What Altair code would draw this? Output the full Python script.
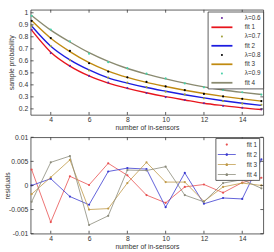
import altair as alt
import pandas as pd

# number of in-sensors
n_sensors = list(range(3, 16))

# fitted sample-probability curves
fit_1 = [0.855, 0.672, 0.556, 0.474, 0.415, 0.371, 0.334, 0.302, 0.274, 0.247, 0.227, 0.209, 0.195]
fit_2 = [0.890, 0.722, 0.608, 0.524, 0.458, 0.415, 0.378, 0.347, 0.318, 0.292, 0.268, 0.247, 0.229]
fit_3 = [0.935, 0.788, 0.677, 0.585, 0.515, 0.462, 0.420, 0.386, 0.355, 0.328, 0.304, 0.283, 0.265]
fit_4 = [0.978, 0.856, 0.757, 0.668, 0.595, 0.536, 0.490, 0.450, 0.414, 0.383, 0.357, 0.337, 0.320]

# residuals (observed - fitted)
res_1 = [0.0033, -0.0076, 0.0019, 0.0001, 0.0046, 0.0021, -0.0020, -0.0036, -0.0003, 0.0002, -0.0015, 0.0006, 0.0016]
res_2 = [0.0000, 0.0014, -0.0023, -0.0040, 0.0029, 0.0036, 0.0034, -0.0045, 0.0026, -0.0038, -0.0026, -0.0028, 0.0054]
res_3 = [-0.0018, 0.0017, 0.0053, -0.0050, -0.0048, 0.0005, 0.0048, 0.0007, 0.0007, -0.0033, -0.0003, 0.0005, 0.0000]
res_4 = [-0.0034, 0.0048, 0.0061, -0.0082, -0.0063, 0.0032, 0.0031, 0.0039, -0.0020, -0.0034, 0.0005, 0.0012, -0.0006]

lambda_labels = ["λ=0.6", "λ=0.7", "λ=0.8", "λ=0.9"]
fit_labels = ["fit 1", "fit 2", "fit 3", "fit 4"]

x_ticks = [4, 6, 8, 10, 12, 14]
p_ticks = [0.2, 0.3, 0.4, 0.5, 0.6, 0.7, 0.8, 0.9, 1]
r_ticks = [-0.01, -0.005, 0, 0.005, 0.01]

lambda_colors = ["#6a2aa0", "#a0a038", "#000000", "#48d0a8"]
fit_colors = ["#e8141c", "#1c1ce0", "#c08a10", "#8a8a70"]
res_colors = ["#e85050", "#3a3ad0", "#c09a48", "#8a8a7a"]

FONT = "Liberation Sans"
INK = "#333333"
W, H_TOP, H_BOT = 239, 108, 99

fits = [fit_1, fit_2, fit_3, fit_4]
ress = [res_1, res_2, res_3, res_4]

fit_df = pd.DataFrame([
    {"n": n, "v": v, "label": lab}
    for lab, ys in zip(fit_labels, fits) for n, v in zip(n_sensors, ys)
])
obs_df = pd.DataFrame([
    {"n": n, "v": f + r, "label": lab}
    for lab, fs, rs in zip(lambda_labels, fits, ress) for n, f, r in zip(n_sensors, fs, rs)
])
res_df = pd.DataFrame([
    {"n": n, "v": r, "label": lab}
    for lab, rs in zip(fit_labels, ress) for n, r in zip(n_sensors, rs)
])
xt_df = pd.DataFrame({"n": x_ticks})
pt_df = pd.DataFrame({"v": p_ticks})
rt_df = pd.DataFrame({"v": r_ticks})

x_scale = alt.Scale(domain=[2.95, 15.1], nice=False, zero=False)
p_scale = alt.Scale(domain=[0.15, 1.025], nice=False, zero=False)
r_scale = alt.Scale(domain=[-0.01, 0.01], nice=False, zero=False)

common_axis = dict(
    labelFont=FONT, labelFontSize=7, labelColor=INK, tickSize=0, domain=False, grid=False,
    titleFont=FONT, titleFontSize=7, titleColor=INK, titleFontWeight="normal",
    labelExpr="'' + datum.value",
)
x_axis = alt.Axis(values=x_ticks, title="number of in-sensors", labelPadding=1, titlePadding=1, **common_axis)
p_axis = alt.Axis(values=p_ticks, title="sample probability", labelPadding=3,
                  titleX=-20, titleY=H_TOP / 2, titleBaseline="middle", **common_axis)
r_axis = alt.Axis(values=r_ticks, title="residuals", labelPadding=3,
                  titleX=-24, titleY=H_BOT / 2, titleBaseline="middle", **common_axis)

X = alt.X("n:Q", scale=x_scale, axis=x_axis)

# legend symbols (unit = half the symbol size): a dot for sample points,
# a short bar for fitted lines, a bar with a marker for residual lines
DOT = "M0,-0.22A0.22,0.22 0 1,1 0,0.22A0.22,0.22 0 1,1 0,-0.22Z"
BAR = "M-2.4,-0.2H2.4V0.2H-2.4Z"
RES_DOT = "M0,-0.25A0.25,0.25 0 1,1 0,0.25A0.25,0.25 0 1,1 0,-0.25Z"
BAR_DOT = ("M-2.05,-0.1H2.05V0.1H-2.05Z "
           "M0,-0.3A0.3,0.3 0 1,1 0,0.3A0.3,0.3 0 1,1 0,-0.3Z")


def tick_marks(ys, yaxis, h):
    """Inward ticks on all four sides of a panel."""
    rule = dict(color=INK, strokeWidth=0.8)
    bx = alt.Chart(xt_df).mark_rule(**rule).encode(x=X, y=alt.value(h), y2=alt.value(h - 3))
    tx = alt.Chart(xt_df).mark_rule(**rule).encode(x=X, y=alt.value(0), y2=alt.value(3))
    df = pt_df if yaxis is p_axis else rt_df
    Y = alt.Y("v:Q", scale=ys, axis=yaxis)
    ly = alt.Chart(df).mark_rule(**rule).encode(y=Y, x=alt.value(0), x2=alt.value(3))
    ry = alt.Chart(df).mark_rule(**rule).encode(y=Y, x=alt.value(W), x2=alt.value(W - 3))
    return [bx, tx, ly, ry]


# ---- top panel: sample probability with fitted curves ----
top_domain = [x for pair in zip(lambda_labels, fit_labels) for x in pair]
top_range = [x for pair in zip(lambda_colors, fit_colors) for x in pair]
top_shapes = [DOT, BAR] * 4
Yp = alt.Y("v:Q", scale=p_scale, axis=p_axis)
top_color_scale = alt.Scale(domain=top_domain, range=top_range)

top_legend = alt.Legend(
    title=None, orient="none", legendX=182, legendY=2, padding=2,
    fillColor="white", strokeColor=INK,
    labelFont=FONT, labelFontSize=6.5, labelColor=INK,
    symbolSize=81, symbolOffset=8, labelOffset=19,
    symbolOpacity=1, symbolStrokeWidth=0, rowPadding=1.5,
)

# invisible layer that carries the legend (listed first so its legend wins the merge)
top_key = alt.Chart(pd.concat([obs_df, fit_df])).mark_point(filled=True, opacity=0).encode(
    x=X, y=Yp,
    color=alt.Color("label:N", scale=top_color_scale, legend=top_legend),
    shape=alt.Shape("label:N", scale=alt.Scale(domain=top_domain, range=top_shapes), legend=top_legend),
)
fit_lines = alt.Chart(fit_df).mark_line(strokeWidth=1.4, interpolate="monotone").encode(
    x=X, y=Yp, color=alt.Color("label:N", scale=top_color_scale, legend=None)
)
obs_dots = alt.Chart(obs_df).mark_point(filled=True, size=5, opacity=1).encode(
    x=X, y=Yp, color=alt.Color("label:N", scale=top_color_scale, legend=None)
)
top = alt.layer(top_key, fit_lines, obs_dots, *tick_marks(p_scale, p_axis, H_TOP)).properties(
    width=W, height=H_TOP
)

# ---- bottom panel: residuals ----
Yr = alt.Y("v:Q", scale=r_scale, axis=r_axis)
res_color_scale = alt.Scale(domain=fit_labels, range=res_colors)
res_shapes = [RES_DOT, BAR_DOT, BAR_DOT, BAR_DOT]
res_legend = alt.Legend(
    title=None, orient="none", legendX=190, legendY=1, padding=2,
    fillColor="white", strokeColor=INK,
    labelFont=FONT, labelFontSize=6.5, labelColor=INK,
    symbolSize=81, symbolOffset=5, labelOffset=16,
    symbolOpacity=1, symbolStrokeWidth=0, rowPadding=2.3,
)
res_key = alt.Chart(res_df).mark_point(filled=True, opacity=0).encode(
    x=X, y=Yr,
    color=alt.Color("label:N", scale=res_color_scale, legend=res_legend),
    shape=alt.Shape("label:N", scale=alt.Scale(domain=fit_labels, range=res_shapes), legend=res_legend),
)
res_lines = alt.Chart(res_df).mark_line(strokeWidth=0.9, opacity=0.9).encode(
    x=X, y=Yr, color=alt.Color("label:N", scale=res_color_scale, legend=None)
)
res_dots = alt.Chart(res_df).mark_point(filled=True, size=5, opacity=1).encode(
    x=X, y=Yr, color=alt.Color("label:N", scale=res_color_scale, legend=None)
)
bottom = alt.layer(res_key, res_lines, res_dots, *tick_marks(r_scale, r_axis, H_BOT)).properties(
    width=W, height=H_BOT
)

chart = (
    alt.vconcat(top, bottom, spacing=1)
    .resolve_scale(color="independent", shape="independent")
    .properties(
        padding={"left": 2.5, "top": 4.5, "right": 5, "bottom": 5},
        background="white",
    )
    .configure_view(stroke=INK, strokeWidth=0.8)
    .configure_legend(strokeWidth=0.8)
)

chart.save("out.html", embed_options={"renderer": "svg", "actions": False})
